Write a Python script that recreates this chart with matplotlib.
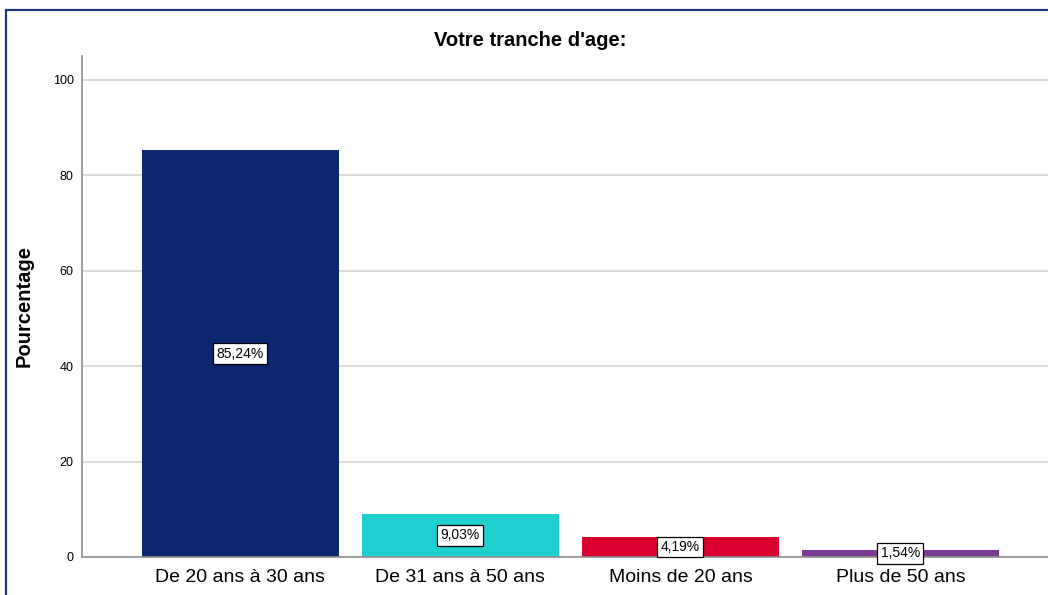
import matplotlib
matplotlib.use('Agg')
import matplotlib.pyplot as plt
from matplotlib.patches import Rectangle

# Age group data
categories = ['De 20 ans à 30 ans', 'De 31 ans à 50 ans', 'Moins de 20 ans', 'Plus de 50 ans']
values = [85.24, 9.03, 4.19, 1.54]
labels = ['85,24%', '9,03%', '4,19%', '1,54%']
colors = ['#0b2770', '#1fcfcf', '#d9002f', '#7b3a94']

plt.rcParams['font.family'] = ['Liberation Sans', 'DejaVu Sans']

fig = plt.figure(figsize=(10.48, 5.95), dpi=100)
ax = fig.add_axes([0.0782, 0.0639, 0.93, 0.842])

x = range(len(categories))
ax.bar(x, values, width=0.895, color=colors, zorder=2)
for i, v in enumerate(values):
    ax.text(i, v / 2, labels[i], ha='center', va='center', fontsize=10, zorder=3,
            bbox=dict(boxstyle='square,pad=0.25', facecolor='white', edgecolor='black', linewidth=0.9))

ax.set_xlim(-0.72, 3.71)
ax.set_ylim(0, 105)
ax.set_yticks([0, 20, 40, 60, 80, 100])
ax.set_xticks(list(x))
ax.set_xticklabels(categories, fontsize=14)
ax.tick_params(axis='y', labelsize=9, length=0, pad=6)
ax.tick_params(axis='x', length=0, pad=9)
ax.yaxis.grid(True, color='#d4d4d4', linewidth=1.2, zorder=0)
ax.set_axisbelow(True)
for s in ['top', 'right']:
    ax.spines[s].set_visible(False)
for s in ['left', 'bottom']:
    ax.spines[s].set_color('#8c8c8c')
    ax.spines[s].set_linewidth(1.2)
ax.set_ylabel('Pourcentage', fontsize=14.5, fontweight='bold', labelpad=14)

fig.text(0.506, 0.932, "Votre tranche d'age:", ha='center', va='center', fontsize=14.5, fontweight='bold')

# dark blue frame around the chart
fig.patches.append(Rectangle((6 / 1048, -0.05), 1.1, 1 - 10 / 595 + 0.05, transform=fig.transFigure,
                             fill=False, edgecolor='#1d3778', linewidth=1.6))

plt.savefig('out.png', dpi=100)
